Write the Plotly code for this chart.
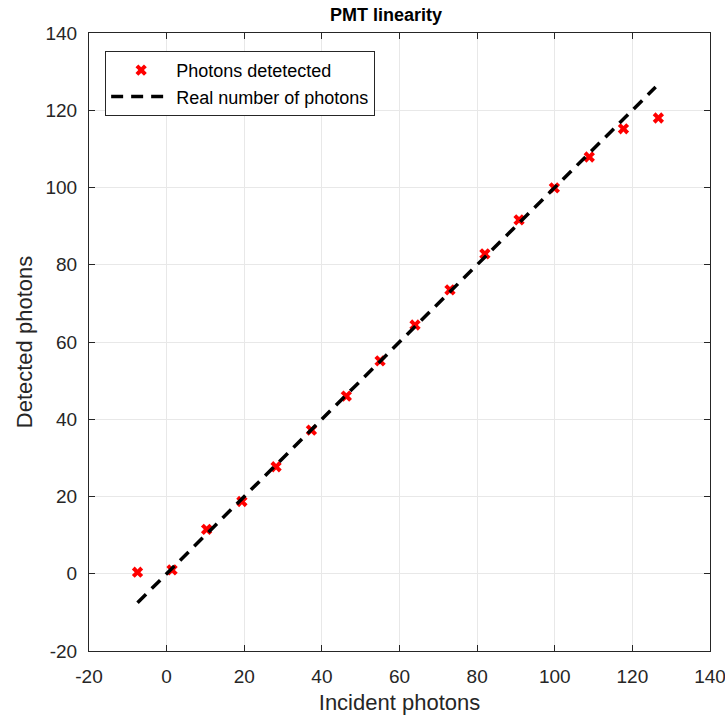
import plotly.graph_objects as go

incident = [-7.5, 1.4, 10.3, 19.4, 28.2, 37.3, 46.3, 55.0, 64.0, 73.0, 82.0, 90.8, 99.9, 108.9, 117.7, 126.7]
detected = [0.4, 1.0, 11.5, 18.7, 27.7, 37.2, 46.0, 55.1, 64.4, 73.5, 82.8, 91.6, 99.9, 107.9, 115.2, 118.0]
line_x = [-7.5, 126.0]
line_y = [-7.5, 126.0]
tick_vals = [-20, 0, 20, 40, 60, 80, 100, 120, 140]
tick_text = ["-20", "0", "20", "40", "60", "80", "100", "120", "140"]

FONT = "Liberation Sans, Arial, Helvetica"

fig = go.Figure()
fig.add_trace(go.Scatter(x=incident, y=detected, mode="markers", name="Photons detetected",
                         marker=dict(symbol="x", size=10, color="#ff0000", line=dict(width=0))))
fig.add_trace(go.Scatter(x=line_x, y=line_y, mode="lines", name="Real number of photons",
                         line=dict(color="black", width=3.5, dash="12px,8px")))

axis_common = dict(range=[-20, 140], tickmode="array", tickvals=tick_vals, ticktext=tick_text,
                   showgrid=True, gridcolor="#e8e8e8", gridwidth=1,
                   showline=True, linecolor="#262626", linewidth=1, mirror="ticks",
                   ticks="inside", ticklen=6, tickcolor="#262626", zeroline=False,
                   automargin=False, ticklabeloverflow="allow",
                   tickfont=dict(family=FONT, size=19, color="#262626"))

fig.update_layout(
    width=725, height=719,
    margin=dict(l=89, r=15, t=33, b=68),
    paper_bgcolor="white", plot_bgcolor="white",
    title=dict(text="<b>PMT linearity</b>", x=386 / 725, xanchor="center", xref="container", y=0.979, yanchor="middle",
               font=dict(family=FONT, size=18, color="black")),
    xaxis=dict(axis_common, ticklabelstandoff=8, title=dict(text="Incident photons", standoff=8,
               font=dict(family=FONT, size=22, color="#262626"))),
    yaxis=dict(axis_common, ticklabelstandoff=7, title=dict(text="Detected photons", standoff=6,
               font=dict(family=FONT, size=22, color="#262626"))),
    legend=dict(x=0.026, y=0.971, xanchor="left", yanchor="top", bgcolor="white",
                bordercolor="#262626", borderwidth=1, itemwidth=60,
                font=dict(family=FONT, size=18, color="black"),
                tracegroupgap=0),
    showlegend=True,
)

fig.write_html("out.html")
